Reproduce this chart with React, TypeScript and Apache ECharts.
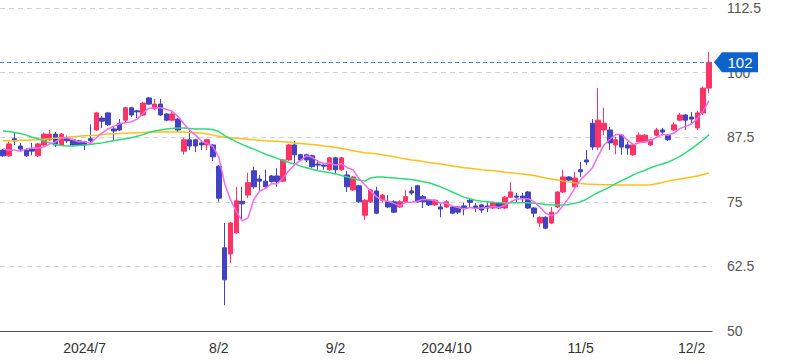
import React, { useEffect, useRef } from "react";
import * as echarts from "echarts";

const dates = [
  "2024/6/11","2024/6/12","2024/6/13","2024/6/14","2024/6/17","2024/6/18","2024/6/19","2024/6/20","2024/6/21","2024/6/24","2024/6/25","2024/6/26","2024/6/27","2024/6/28",
  "2024/7/1","2024/7/2","2024/7/3","2024/7/4","2024/7/5","2024/7/8","2024/7/9","2024/7/10","2024/7/11","2024/7/12","2024/7/16","2024/7/17","2024/7/18","2024/7/19","2024/7/22","2024/7/23","2024/7/24","2024/7/25","2024/7/26","2024/7/29","2024/7/30","2024/7/31",
  "2024/8/1","2024/8/2","2024/8/5","2024/8/6","2024/8/7","2024/8/8","2024/8/9","2024/8/13","2024/8/14","2024/8/15","2024/8/16","2024/8/19","2024/8/20","2024/8/21","2024/8/22","2024/8/23","2024/8/26","2024/8/27","2024/8/28","2024/8/29","2024/8/30",
  "2024/9/2","2024/9/3","2024/9/4","2024/9/5","2024/9/6","2024/9/9","2024/9/10","2024/9/11","2024/9/12","2024/9/13","2024/9/17","2024/9/18","2024/9/19","2024/9/20","2024/9/24","2024/9/25","2024/9/26","2024/9/27","2024/9/30",
  "2024/10/1","2024/10/2","2024/10/3","2024/10/4","2024/10/7","2024/10/8","2024/10/9","2024/10/10","2024/10/11","2024/10/15","2024/10/16","2024/10/17","2024/10/18","2024/10/21","2024/10/22","2024/10/23","2024/10/24","2024/10/25","2024/10/28","2024/10/29","2024/10/30","2024/10/31",
  "2024/11/1","2024/11/5","2024/11/6","2024/11/7","2024/11/8","2024/11/11","2024/11/12","2024/11/13","2024/11/14","2024/11/15","2024/11/18","2024/11/19","2024/11/20","2024/11/21","2024/11/22","2024/11/25","2024/11/26","2024/11/27","2024/11/28","2024/11/29",
  "2024/12/2","2024/12/3","2024/12/4","2024/12/5"
];

const opens = [
  85.0, 83.9, 87.2, 85.8, 85.0, 85.2, 83.9, 86.0, 87.0, 88.1,
  86.0, 87.4, 87.0, 86.8, 86.6, 87.2, 88.9, 91.2, 92.2, 89.1,
  90.2, 90.8, 93.2, 92.6, 91.8, 95.1, 93.0, 93.9, 92.0, 90.8,
  91.0, 84.8, 87.0, 87.0, 86.4, 86.0, 86.0, 81.9, 66.1, 64.9,
  69.0, 75.1, 76.3, 81.0, 79.4, 79.0, 80.0, 80.0, 79.0, 83.1,
  86.0, 84.1, 84.1, 83.9, 82.3, 82.1, 81.2, 83.5, 81.2, 80.2,
  77.3, 78.1, 72.4, 75.0, 77.1, 75.3, 75.0, 75.0, 74.0, 75.0,
  77.1, 78.1, 76.0, 75.3, 74.4, 74.0, 74.0, 74.0, 74.0, 74.2,
  75.3, 74.2, 74.4, 74.2, 73.8, 74.8, 73.8, 75.9, 76.1, 76.1,
  76.9, 73.8, 70.9, 72.0, 70.9, 74.0, 76.9, 79.8, 77.9, 81.2,
  83.1, 90.2, 85.6, 88.9, 88.9, 86.0, 87.9, 86.0, 84.1, 86.6,
  86.6, 86.0, 87.9, 88.9, 87.9, 88.9, 90.8, 91.8, 91.4, 89.3,
  92.2, 97.0
];

const closes = [
  83.9, 86.2, 86.8, 85.2, 83.9, 84.8, 86.2, 88.1, 88.1, 86.0,
  88.1, 86.8, 86.0, 86.0, 86.0, 86.8, 92.2, 90.6, 89.9, 88.7,
  88.9, 93.2, 91.8, 92.4, 94.1, 93.9, 93.9, 91.8, 90.8, 92.0,
  88.9, 87.0, 85.8, 85.8, 86.0, 87.0, 83.7, 75.7, 59.9, 70.9,
  75.2, 74.6, 78.7, 77.9, 79.0, 77.9, 78.9, 78.9, 83.1, 86.0,
  84.1, 83.1, 83.1, 81.8, 82.1, 81.9, 83.5, 81.2, 83.5, 77.9,
  79.8, 75.0, 75.3, 77.3, 72.8, 76.3, 74.0, 73.0, 75.0, 76.0,
  76.7, 75.0, 75.0, 74.4, 75.3, 73.6, 75.0, 72.8, 73.0, 73.8,
  74.9, 73.8, 73.4, 73.8, 74.8, 73.8, 75.9, 76.9, 75.9, 75.7,
  73.8, 72.8, 72.0, 69.9, 73.0, 76.9, 79.8, 79.2, 79.6, 80.8,
  82.7, 85.6, 90.8, 90.2, 86.4, 87.0, 85.6, 85.4, 86.0, 87.9,
  87.9, 87.0, 88.9, 88.5, 87.0, 89.9, 91.8, 90.8, 91.0, 92.2,
  97.0, 102.0
];

const lows = [
  83.7, 83.7, 86.0, 84.6, 83.7, 84.0, 83.7, 85.8, 86.8, 85.6,
  85.8, 86.4, 85.8, 85.8, 85.0, 86.4, 88.7, 89.3, 89.7, 87.0,
  88.7, 90.2, 91.4, 91.2, 91.6, 93.7, 92.8, 91.6, 90.6, 90.6,
  88.5, 84.1, 85.0, 84.6, 85.0, 85.0, 82.9, 75.0, 55.0, 63.2,
  68.8, 71.5, 75.7, 77.5, 76.9, 77.7, 78.7, 77.9, 78.8, 82.9,
  82.5, 82.9, 82.7, 81.6, 81.2, 81.2, 81.0, 80.4, 81.0, 76.9,
  77.1, 74.8, 71.5, 74.8, 72.6, 75.0, 73.8, 72.8, 73.8, 74.8,
  76.3, 74.8, 73.8, 74.2, 74.2, 72.0, 73.8, 72.6, 72.6, 72.4,
  74.0, 73.0, 72.8, 73.0, 73.6, 73.6, 73.6, 75.7, 74.8, 74.8,
  73.6, 72.0, 70.1, 69.7, 70.7, 73.8, 76.7, 79.0, 77.7, 79.8,
  82.1, 85.0, 85.0, 87.9, 85.0, 84.2, 84.1, 84.1, 83.9, 86.4,
  86.4, 85.8, 87.7, 87.9, 86.8, 88.7, 90.6, 88.9, 90.0, 88.9,
  91.8, 96.0
];

const highs = [
  85.2, 86.6, 88.5, 86.4, 85.4, 86.4, 86.4, 88.4, 88.9, 88.5,
  88.3, 87.8, 87.2, 87.0, 86.8, 90.0, 92.4, 91.6, 92.4, 89.5,
  91.0, 93.4, 93.4, 92.8, 94.3, 95.3, 94.9, 94.9, 92.2, 92.6,
  91.2, 87.4, 88.9, 87.2, 86.8, 87.2, 86.2, 82.1, 70.9, 71.1,
  77.9, 77.9, 80.6, 81.8, 80.2, 81.2, 80.2, 81.5, 83.3, 86.2,
  86.8, 84.3, 84.3, 84.1, 83.1, 82.5, 83.7, 83.7, 83.7, 81.0,
  80.0, 78.3, 75.5, 77.5, 77.9, 76.5, 76.3, 75.3, 75.3, 77.3,
  77.9, 78.3, 76.3, 75.5, 75.5, 74.8, 75.3, 74.2, 74.2, 74.8,
  75.7, 74.8, 74.6, 74.8, 75.0, 75.0, 76.1, 78.8, 76.7, 76.7,
  77.1, 74.0, 72.2, 72.2, 74.0, 77.1, 81.2, 80.0, 80.8, 82.7,
  85.0, 91.0, 97.0, 93.2, 89.5, 87.6, 88.1, 86.6, 86.2, 88.5,
  88.1, 87.2, 89.3, 89.3, 88.1, 90.4, 92.2, 92.0, 92.4, 92.6,
  97.3, 104.0
];

const ma5 = [
  85.2, 85.0, 85.0, 84.8, 85.2, 85.4, 85.4, 85.6, 86.2, 86.6,
  87.3, 87.4, 87.0, 86.6, 86.6, 86.3, 87.4, 88.3, 89.1, 89.6,
  90.1, 90.3, 90.5, 91.0, 92.1, 93.1, 93.2, 93.2, 92.9, 92.5,
  91.5, 90.1, 88.9, 87.9, 86.7, 86.3, 85.7, 83.6, 78.5, 75.4,
  73.1, 71.3, 71.9, 75.5, 77.1, 77.6, 78.5, 78.5, 79.6, 81.0,
  82.2, 83.0, 83.9, 83.6, 82.8, 82.4, 82.5, 82.1, 82.4, 81.6,
  81.2, 79.5, 78.3, 77.1, 76.0, 75.3, 75.1, 74.7, 74.2, 74.9,
  74.9, 75.1, 75.5, 75.4, 75.3, 74.7, 74.7, 74.2, 73.9, 73.6,
  73.9, 73.7, 73.8, 73.9, 74.1, 73.9, 74.3, 75.0, 75.5, 75.6,
  75.6, 75.0, 74.0, 72.8, 72.3, 72.9, 74.3, 75.8, 77.7, 79.3,
  80.4, 81.6, 83.9, 86.0, 87.1, 88.0, 88.0, 86.9, 86.1, 86.4,
  86.6, 86.8, 87.5, 88.0, 87.9, 88.3, 89.2, 89.6, 90.1, 91.1,
  92.6, 94.6
];

const ma25 = [
  88.7, 88.6, 88.4, 88.2, 87.9, 87.5, 87.2, 86.8, 86.4, 86.1,
  85.9, 85.8, 85.8, 85.9, 86.0, 86.1, 86.3, 86.4, 86.6, 86.8,
  87.0, 87.2, 87.4, 87.7, 88.0, 88.4, 88.7, 88.9, 89.1, 89.2,
  89.3, 89.3, 89.2, 89.1, 89.1, 89.1, 89.0, 88.6, 87.8, 87.2,
  86.6, 86.1, 85.6, 85.2, 84.7, 84.2, 83.8, 83.4, 83.0, 82.6,
  82.3, 81.9, 81.6, 81.3, 81.0, 80.8, 80.6, 80.4, 80.1, 79.8,
  79.5, 79.2, 79.0, 79.6, 79.8, 79.8, 79.7, 79.6, 79.5, 79.4,
  79.3, 79.1, 78.9, 78.7, 78.3, 77.9, 77.4, 76.9, 76.4, 75.9,
  75.6, 75.3, 75.1, 75.0, 74.9, 74.8, 74.8, 74.8, 74.8, 74.8,
  74.8, 74.7, 74.6, 74.5, 74.4, 74.4, 74.4, 74.5, 74.7, 75.0,
  75.5, 76.2, 76.8, 77.3, 77.9, 78.5, 79.1, 79.6, 80.2, 80.7,
  81.1, 81.6, 82.0, 82.3, 82.7, 83.2, 83.8, 84.5, 85.3, 86.1,
  87.0, 88.0
];

const ma75 = [
  86.8, 86.8, 86.8, 86.9, 86.9, 86.95, 87.0, 87.1, 87.2, 87.3,
  87.4, 87.5, 87.6, 87.7, 87.8, 87.85, 87.9, 88.0, 88.1, 88.15,
  88.2, 88.25, 88.3, 88.35, 88.4, 88.45, 88.5, 88.5, 88.5, 88.5,
  88.5, 88.5, 88.4, 88.35, 88.3, 88.1, 87.9, 87.7, 87.5, 87.4,
  87.3, 87.2, 87.1, 87.0, 86.9, 86.8, 86.75, 86.7, 86.6, 86.5,
  86.4, 86.3, 86.2, 86.1, 86.0, 85.8, 85.7, 85.5, 85.3, 85.1,
  84.9, 84.7, 84.5, 84.4, 84.3, 84.1, 83.9, 83.7, 83.5, 83.3,
  83.1, 83.0, 82.8, 82.6, 82.45, 82.3, 82.1, 81.95, 81.8, 81.6,
  81.5, 81.35, 81.2, 81.1, 81.0, 80.9, 80.7, 80.6, 80.5, 80.4,
  80.25, 80.1, 79.85, 79.6, 79.4, 79.2, 79.0, 78.85, 78.7, 78.55,
  78.45, 78.4, 78.35, 78.3, 78.3, 78.25, 78.25, 78.25, 78.25, 78.25,
  78.25, 78.3, 78.5, 78.75, 79.0, 79.2, 79.4, 79.6, 79.8, 80.0,
  80.3, 80.6
];

const labelDates = ["2024/7/1", "2024/8/2", "2024/9/2", "2024/10/1", "2024/11/5", "2024/12/2"];
const labelTexts = ["2024/7", "8/2", "9/2", "2024/10", "11/5", "12/2"];
const yMin = 50;
const yMax = 112.5;
const yStep = 12.5;
const lastPrice = 102;

const UP = "#ff3366";
const DOWN = "#4242c2";
const GRID_RIGHT = 78;

export default function App() {
  const ref = useRef<HTMLDivElement>(null);
  useEffect(() => {
    if (!ref.current) return;
    const chart = echarts.init(ref.current, undefined, { renderer: "svg" });
    const candles = dates.map((_, i) => [opens[i], closes[i], lows[i], highs[i]]);
    const font = "'Liberation Sans', Arial, sans-serif";
    chart.setOption({
      animation: false,
      backgroundColor: "#ffffff",
      grid: { left: -1.7, right: GRID_RIGHT, top: 8, bottom: 33, containLabel: false },
      xAxis: {
        type: "category",
        data: dates,
        boundaryGap: true,
        axisLine: { show: true, lineStyle: { color: "#555", width: 1 } },
        axisTick: { show: false },
        splitLine: { show: false },
        axisLabel: {
          interval: (index: number, value: string) => labelDates.indexOf(value) >= 0,
          formatter: (value: string) => {
            const j = labelDates.indexOf(value);
            return j >= 0 ? labelTexts[j] : "";
          },
          color: "#333",
          fontSize: 14,
          fontFamily: font,
          margin: 10,
        },
      },
      yAxis: {
        type: "value",
        position: "right",
        min: yMin,
        max: yMax,
        interval: yStep,
        scale: true,
        axisLine: { show: false },
        axisTick: { show: false },
        splitLine: { show: true, lineStyle: { color: "#d3d3d3", type: [5, 4], width: 1 } },
        axisLabel: {
          color: "#555",
          fontSize: 14,
          fontFamily: font,
          margin: 15,
          align: "left",
          formatter: (v: number) => String(v),
        },
      },
      series: [
        {
          type: "candlestick",
          data: candles,
          barWidth: 5,
          itemStyle: { color: UP, color0: DOWN, borderColor: UP, borderColor0: DOWN, borderWidth: 1 },
          markLine: {
            silent: true,
            symbol: "none",
            label: { show: false },
            lineStyle: { color: "#3d86e0", type: [4, 3], width: 1 },
            data: [{ yAxis: lastPrice }],
          },
        },
        {
          type: "line",
          data: ma75,
          showSymbol: false,
          symbol: "none",
          lineStyle: { color: "#ffbf1a", width: 1.5 },
        },
        {
          type: "line",
          data: ma25,
          showSymbol: false,
          symbol: "none",
          lineStyle: { color: "#2edb78", width: 1.5 },
        },
        {
          type: "line",
          data: ma5,
          showSymbol: false,
          symbol: "none",
          lineStyle: { color: "#f06cf2", width: 1.5 },
        },
      ],
    });
    const py = chart.convertToPixel({ yAxisIndex: 0 }, lastPrice) as number;
    const x0 = chart.getWidth() - GRID_RIGHT;
    chart.setOption({
      graphic: [
        {
          type: "polygon",
          shape: {
            points: [
              [x0 + 2, py],
              [x0 + 10, py - 10],
              [x0 + 46, py - 10],
              [x0 + 46, py + 10],
              [x0 + 10, py + 10],
            ],
          },
          style: { fill: "#0d63c9" },
          z: 100,
        },
        {
          type: "text",
          x: x0 + 28,
          y: py,
          style: {
            text: String(lastPrice),
            fill: "#ffffff",
            fontSize: 15,
            fontFamily: font,
            align: "center",
            verticalAlign: "middle",
          },
          z: 101,
        },
      ],
    });
    return () => chart.dispose();
  }, []);
  return (
    <div
      ref={ref}
      style={{ position: "absolute", left: 0, top: 0, width: 790, height: 364, background: "#fff" }}
    />
  );
}
